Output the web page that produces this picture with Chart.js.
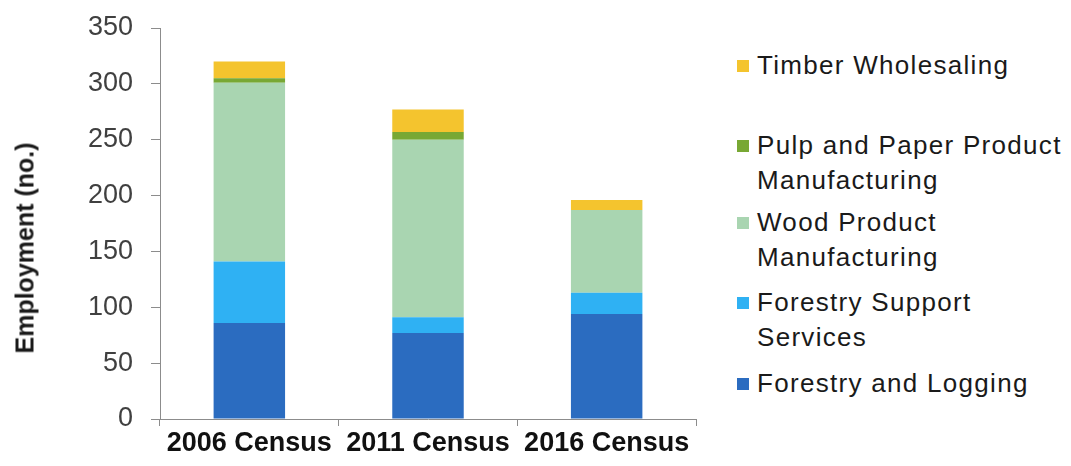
<!DOCTYPE html>
<html>
<head>
<meta charset="utf-8">
<script src="https://cdn.jsdelivr.net/npm/chart.js@4/dist/chart.umd.min.js"></script>
<style>
  html, body { margin: 0; padding: 0; background: #ffffff; }
  #wrap { position: relative; width: 1071px; height: 466px; }
  #chartBox { position: absolute; left: 0; top: 0; width: 705px; height: 466px; }
  #ytitle { position: absolute; left: 25px; top: 248px; transform: translate(-50%, -50%) rotate(-90deg); white-space: nowrap;
            font-family: "Liberation Sans", Arial, sans-serif; font-weight: bold; font-size: 25px; color: #1a1a1a; }
  #legend { position: absolute; left: 737px; top: 0; font-family: "Liberation Sans", Arial, sans-serif; font-size: 26px; color: #1a1a1a; letter-spacing: 1.3px; }
  .item { position: absolute; left: 0; width: 330px; line-height: 35px; }
  .sw { position: absolute; left: 0; width: 12px; height: 12px; }
  .txt { position: absolute; left: 20px; white-space: nowrap; }
</style>
</head>
<body>
<div id="wrap">
  <div id="chartBox"><canvas id="c"></canvas></div>
  <div id="ytitle">Employment (no.)</div>
  <div id="legend"></div>
</div>
<script>
const categories = ["2006 Census", "2011 Census", "2016 Census"];
const forestryLogging = [86, 77, 94];
const forestrySupport = [55, 14, 19];
const woodProduct = [160, 159, 74];
const pulpPaper = [4, 7, 0];
const timberWholesaling = [15, 20, 9];
const yTicks = [0, 50, 100, 150, 200, 250, 300, 350];

const seriesNames = [
  ["Forestry and Logging"],
  ["Forestry Support", "Services"],
  ["Wood Product", "Manufacturing"],
  ["Pulp and Paper Product", "Manufacturing"],
  ["Timber Wholesaling"]
];
const seriesData = [forestryLogging, forestrySupport, woodProduct, pulpPaper, timberWholesaling];
const seriesColors = ["#2b6cc0", "#2fb1f3", "#a9d5b1", "#78a834", "#f4c42e"];

const datasets = seriesData.map((d, i) => ({
  label: seriesNames[i].join(" "),
  data: d,
  backgroundColor: seriesColors[i],
  borderWidth: 0,
  barPercentage: 0.4,
  categoryPercentage: 1.0
}));

const axisColor = "#8c8c8c";

new Chart(document.getElementById("c"), {
  type: "bar",
  data: { labels: categories, datasets: datasets },
  options: {
    responsive: true,
    maintainAspectRatio: false,
    animation: false,
    layout: { padding: { left: 0, right: 9, top: 28, bottom: 0 } },
    plugins: { legend: { display: false }, tooltip: { enabled: false } },
    scales: {
      x: {
        stacked: true,
        grid: { display: true, drawOnChartArea: false, drawTicks: true, tickLength: 7, color: axisColor, offset: true },
        border: { display: true, color: axisColor, width: 1 },
        ticks: { color: "#111111", font: { family: "Liberation Sans", size: 27, weight: "bold" }, padding: 1, maxRotation: 0, autoSkip: false },
        afterFit: (s) => { s.height = 47; s.paddingLeft = 0; s.paddingRight = 0; }
      },
      y: {
        stacked: true,
        min: 0,
        max: 350,
        afterBuildTicks: (s) => { s.ticks = yTicks.map(v => ({ value: v })); },
        grid: { display: true, drawOnChartArea: false, drawTicks: true, tickLength: 9, color: axisColor },
        border: { display: true, color: axisColor, width: 1 },
        ticks: { color: "#404040", font: { family: "Liberation Sans", size: 27 }, padding: 18 },
        afterFit: (s) => { s.width = 160; s.paddingTop = 0; s.paddingBottom = 0; }
      }
    }
  }
});

// HTML legend, reversed order, built from the series
const legendPositions = [383, 302, 222, 145, 65];
const legend = document.getElementById("legend");
for (let i = seriesNames.length - 1; i >= 0; i--) {
  const item = document.createElement("div");
  item.className = "item";
  item.style.top = (legendPositions[i] - 17) + "px";
  const sw = document.createElement("div");
  sw.className = "sw";
  sw.style.background = seriesColors[i];
  sw.style.top = "12px";
  item.appendChild(sw);
  const t = document.createElement("div");
  t.className = "txt";
  t.innerHTML = seriesNames[i].join("<br>");
  item.appendChild(t);
  legend.appendChild(item);
}
</script>
</body>
</html>
